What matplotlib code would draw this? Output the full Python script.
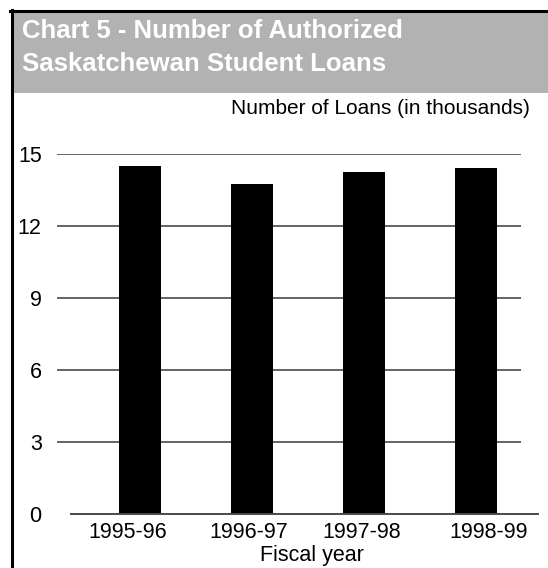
import matplotlib
matplotlib.use("Agg")
import matplotlib.pyplot as plt
import matplotlib.transforms as mtransforms
from matplotlib.patches import Rectangle
from matplotlib.lines import Line2D

categories = ["1995-96", "1996-97", "1997-98", "1998-99"]
loans = [14.5, 13.75, 14.25, 14.4]
yticks = [0, 3, 6, 9, 12, 15]

plt.rcParams['font.family'] = ['Liberation Sans', 'DejaVu Sans']

W, H = 548, 568
fig = plt.figure(figsize=(W / 100, H / 100), dpi=100)
fig.patch.set_facecolor('white')

def fx(px):
    return px / W

def fy(py):
    return 1 - py / H

# header band and frame
fig.add_artist(Rectangle((fx(12), fy(93)), fx(548 - 12), 81 / H, transform=fig.transFigure,
                         facecolor='#b2b2b2', edgecolor='none', zorder=0))
fig.add_artist(Line2D([fx(11.5), fx(11.5)], [fy(10), 0], transform=fig.transFigure,
                      color='black', lw=2.2))
fig.add_artist(Line2D([fx(10), 1], [fy(11), fy(11)], transform=fig.transFigure,
                      color='black', lw=2.2))

fig.text(fx(22), fy(31), "Chart 5 - Number of Authorized", color='white',
         fontsize=18.5, fontweight='bold', ha='left', va='center')
fig.text(fx(22), fy(64), "Saskatchewan Student Loans", color='white',
         fontsize=18.5, fontweight='bold', ha='left', va='center')

ax = fig.add_axes([fx(57), fy(514), fx(521 - 57), (514 - 154) / H])
x = list(range(len(categories)))
ax.bar(x, loans, width=0.375, color='black', zorder=3)
ax.set_xlim(-0.741, 3.402)
ax.set_ylim(0, 15)
for s in ax.spines.values():
    s.set_visible(False)
ax.set_yticks(yticks)
ax.set_yticklabels([str(v) for v in yticks], fontsize=15.5)
ax.tick_params(axis='y', length=0, pad=11)
ax.set_xticks(x)
ax.set_xticklabels(categories, fontsize=15.5)
ax.tick_params(axis='x', length=0, pad=6)
label_shift_px = [-12, -3, -2, 13]
for lab, dx in zip(ax.get_xticklabels(), label_shift_px):
    lab.set_transform(lab.get_transform() +
                      mtransforms.ScaledTranslation(dx / 100, 0, fig.dpi_scale_trans))
for v in yticks[1:]:
    ax.axhline(v, color='#4a4a4a', lw=1.2, zorder=1)
ax.plot([-0.616, 3.554], [0, 0], color='#4a4a4a', lw=1.4, clip_on=False, zorder=4)

fig.text(fx(530), fy(109), "Number of Loans (in thousands)", fontsize=15,
         ha='right', va='center')
fig.text(fx(312), fy(555), "Fiscal year", fontsize=15.5, ha='center', va='center')

fig.savefig("out.png", dpi=100)
